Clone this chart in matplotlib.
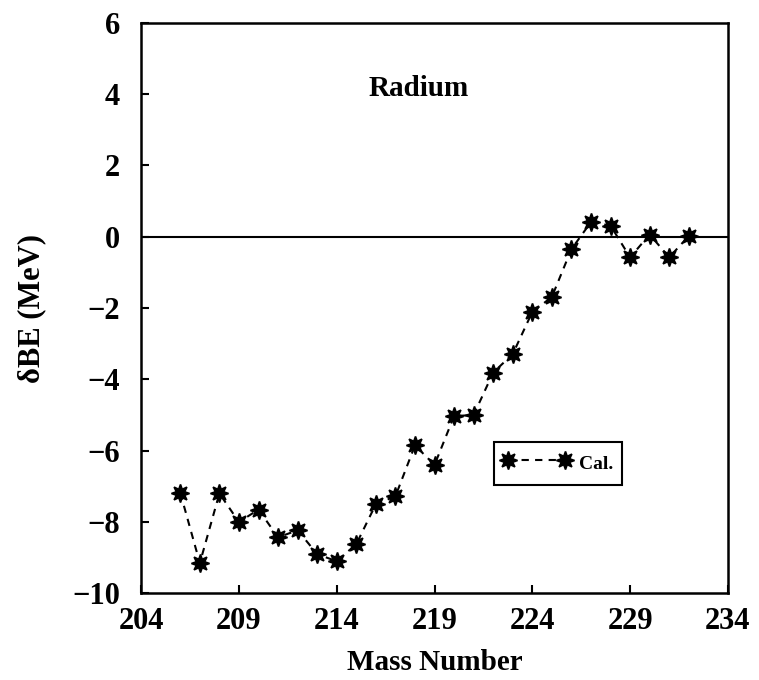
import matplotlib

matplotlib.use("Agg")
import matplotlib.pyplot as plt

# binding-energy difference for radium isotopes
mass_number = [206, 207, 208, 209, 210, 211, 212, 213, 214, 215, 216, 217, 218, 219,
               220, 221, 222, 223, 224, 225, 226, 227, 228, 229, 230, 231, 232]
delta_be = [-7.18, -9.15, -7.2, -8.0, -7.65, -8.43, -8.23, -8.9, -9.1, -8.62, -7.5,
            -7.28, -5.85, -6.4, -5.03, -5.0, -3.81, -3.29, -2.11, -1.69, -0.35,
            0.41, 0.31, -0.58, 0.06, -0.58, 0.02]
x_ticks = [204, 209, 214, 219, 224, 229, 234]
y_ticks = [-10, -8, -6, -4, -2, 0, 2, 4, 6]

plt.rcParams["font.family"] = ["Liberation Serif", "DejaVu Serif"]
plt.rcParams["font.weight"] = "bold"
plt.rcParams["axes.unicode_minus"] = True

fig = plt.figure(figsize=(7.59, 6.80), dpi=100)
ax = fig.add_axes([0.186, 0.1274, 0.773, 0.8393])

ax.axhline(0, color="black", lw=1.5, zorder=1)
ax.plot(mass_number, delta_be, color="black", lw=1.5, ls=(0, (3.5, 3)),
        marker=(8, 1, 0), ms=13, mfc="black", mec="black", mew=1.2,
        label="Cal.", zorder=3)

ax.set_xlim(204, 234)
ax.set_ylim(-10, 6)
ax.set_xticks(x_ticks)
ax.set_yticks(y_ticks)
ax.tick_params(direction="in", length=6, width=1.5, labelsize=22)
ax.tick_params(axis="y", pad=15)
ax.tick_params(axis="x", pad=10)
for lab in ax.get_xticklabels() + ax.get_yticklabels():
    lab.set_fontweight("bold")
for s in ax.spines.values():
    s.set_linewidth(1.8)

ax.set_xlabel("Mass Number", fontsize=21, fontweight="bold", labelpad=9)
ax.set_ylabel("δBE (MeV)", fontsize=22, fontweight="bold", labelpad=19)
ax.text(218.2, 4.15, "Radium", fontsize=21, fontweight="bold", ha="center", va="center")

leg = ax.legend(loc="upper left", bbox_to_anchor=(0.601, 0.266), borderaxespad=0,
                fancybox=False, edgecolor="black", framealpha=1, numpoints=2,
                handlelength=3.5, handletextpad=0.45, borderpad=0.45,
                handleheight=1.65,
                prop={"family": "Liberation Serif", "weight": "bold", "size": 14})
leg.get_frame().set_linewidth(1.5)

fig.savefig("out.png", dpi=100)
